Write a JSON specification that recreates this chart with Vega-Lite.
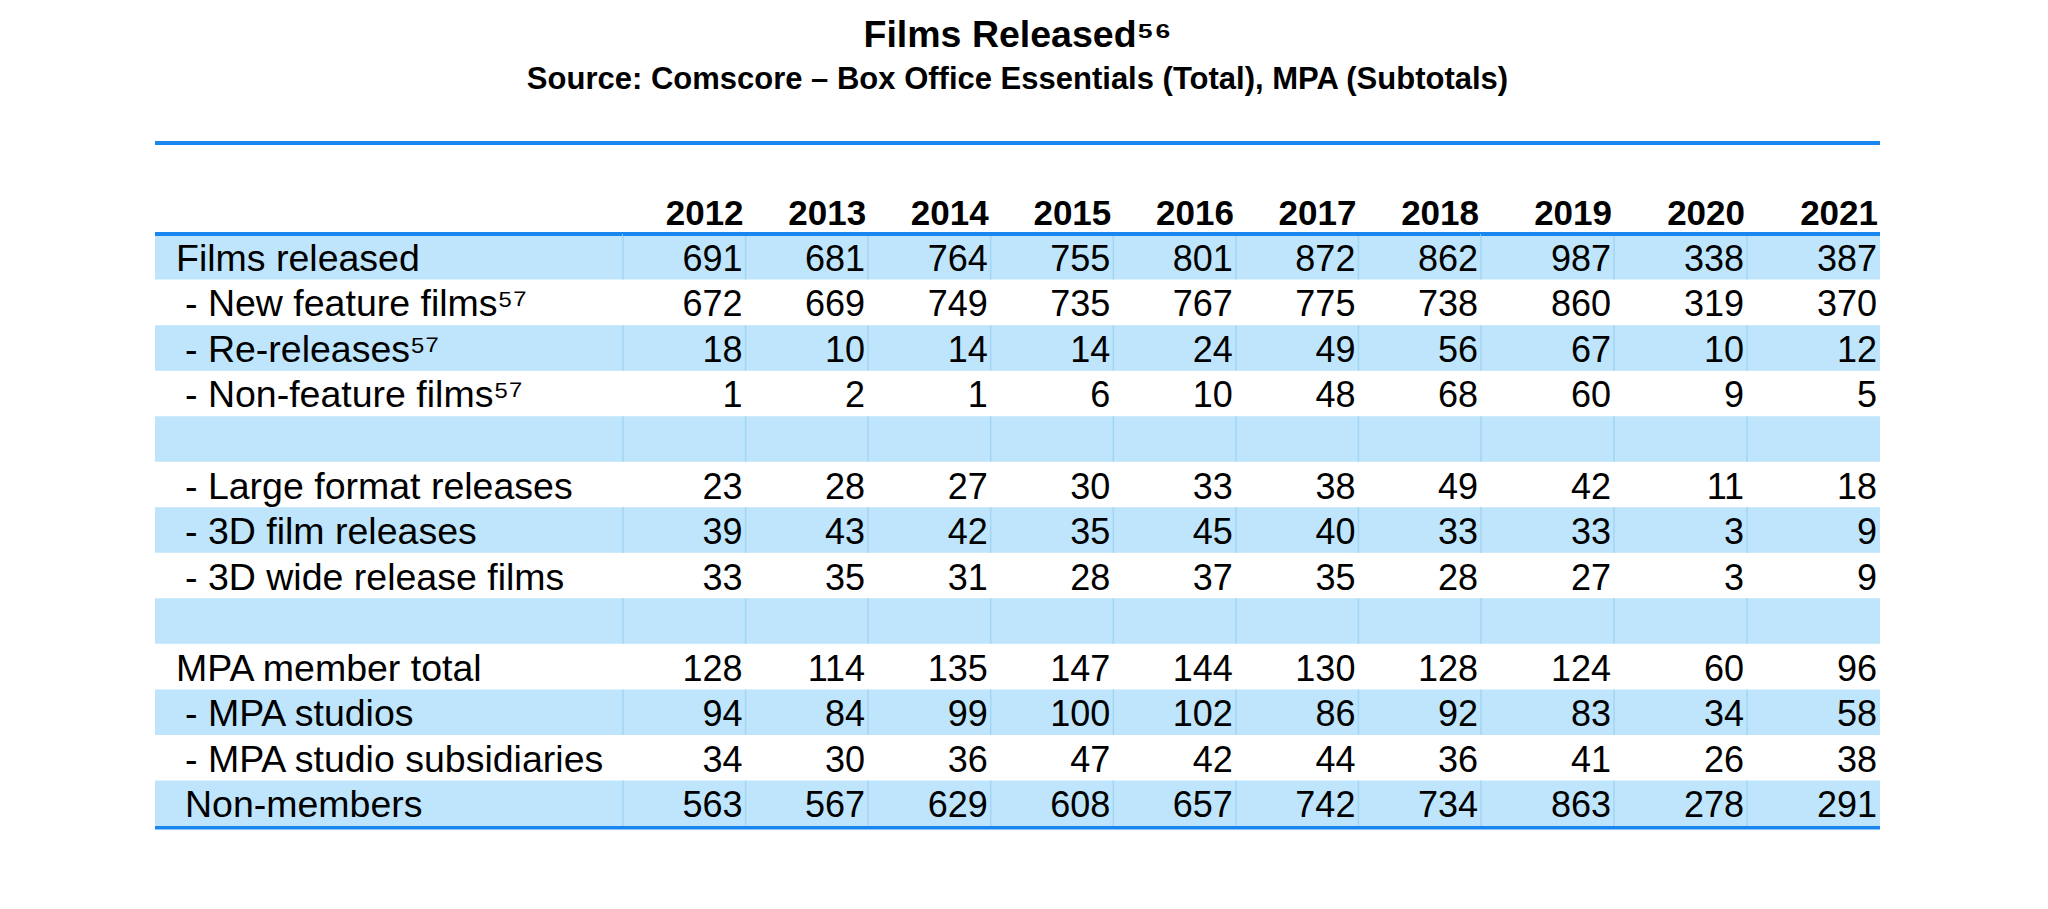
{
  "$schema": "https://vega.github.io/schema/vega-lite/v6.json",
  "padding": {"left": 153, "top": 17, "right": 0, "bottom": 0},
  "background": "white",
  "config": {"view": {"stroke": null}, "font": "Liberation Sans"},
  "title": {
    "text": "Films Released⁵⁶",
    "subtitle": "Source: Comscore – Box Office Essentials (Total), MPA (Subtotals)",
    "anchor": "middle",
    "font": "Liberation Sans",
    "fontSize": 37.5,
    "fontWeight": "bold",
    "color": "#000000",
    "subtitleFont": "Liberation Sans",
    "subtitleFontSize": 31,
    "subtitleFontWeight": "bold",
    "subtitleColor": "#000000",
    "subtitlePadding": 10,
    "offset": 46.5
  },
  "datasets": {
    "table": [
      {"id": "r1", "label": "Films released", "level": 0, "shade": true, "2012": 691, "2013": 681, "2014": 764, "2015": 755, "2016": 801, "2017": 872, "2018": 862, "2019": 987, "2020": 338, "2021": 387},
      {"id": "r2", "label": "- New feature films⁵⁷", "level": 1, "shade": false, "2012": 672, "2013": 669, "2014": 749, "2015": 735, "2016": 767, "2017": 775, "2018": 738, "2019": 860, "2020": 319, "2021": 370},
      {"id": "r3", "label": "- Re-releases⁵⁷", "level": 1, "shade": true, "2012": 18, "2013": 10, "2014": 14, "2015": 14, "2016": 24, "2017": 49, "2018": 56, "2019": 67, "2020": 10, "2021": 12},
      {"id": "r4", "label": "- Non-feature films⁵⁷", "level": 1, "shade": false, "2012": 1, "2013": 2, "2014": 1, "2015": 6, "2016": 10, "2017": 48, "2018": 68, "2019": 60, "2020": 9, "2021": 5},
      {"id": "r5", "label": "", "level": 0, "shade": true},
      {"id": "r6", "label": "- Large format releases", "level": 1, "shade": false, "2012": 23, "2013": 28, "2014": 27, "2015": 30, "2016": 33, "2017": 38, "2018": 49, "2019": 42, "2020": 11, "2021": 18},
      {"id": "r7", "label": "- 3D film releases", "level": 1, "shade": true, "2012": 39, "2013": 43, "2014": 42, "2015": 35, "2016": 45, "2017": 40, "2018": 33, "2019": 33, "2020": 3, "2021": 9},
      {"id": "r8", "label": "- 3D wide release films", "level": 1, "shade": false, "2012": 33, "2013": 35, "2014": 31, "2015": 28, "2016": 37, "2017": 35, "2018": 28, "2019": 27, "2020": 3, "2021": 9},
      {"id": "r9", "label": "", "level": 0, "shade": true},
      {"id": "r10", "label": "MPA member total", "level": 0, "shade": false, "2012": 128, "2013": 114, "2014": 135, "2015": 147, "2016": 144, "2017": 130, "2018": 128, "2019": 124, "2020": 60, "2021": 96},
      {"id": "r11", "label": "- MPA studios", "level": 1, "shade": true, "2012": 94, "2013": 84, "2014": 99, "2015": 100, "2016": 102, "2017": 86, "2018": 92, "2019": 83, "2020": 34, "2021": 58},
      {"id": "r12", "label": "- MPA studio subsidiaries", "level": 1, "shade": false, "2012": 34, "2013": 30, "2014": 36, "2015": 47, "2016": 42, "2017": 44, "2018": 36, "2019": 41, "2020": 26, "2021": 38},
      {"id": "r13", "label": "Non-members", "level": 1, "shade": true, "2012": 563, "2013": 567, "2014": 629, "2015": 608, "2016": 657, "2017": 742, "2018": 734, "2019": 863, "2020": 278, "2021": 291}
    ]
  },
  "spacing": 0,
  "bounds": "flush",
  "hconcat": [
    {
      "width": 468,
      "height": 683,
      "data": {"name": "table"},
      "layer": [
        {
          "transform": [{"filter": "datum.shade"}],
          "mark": {"type": "rect", "color": "#BEE5FC"},
          "encoding": {
            "x": {"datum": "label", "type": "nominal", "scale": {"type": "band", "domain": ["label"], "paddingInner": 0, "paddingOuter": 0}, "axis": null},
            "y": {"field": "id", "type": "ordinal", "scale": {"type": "band", "domain": ["sp","hdr","r1","r2","r3","r4","r5","r6","r7","r8","r9","r10","r11","r12","r13"], "paddingInner": 0, "paddingOuter": 0}, "axis": null}
          }
        },
        {
          "transform": [{"filter": "datum.level === 0 && datum.label !== ''"}],
          "mark": {"type": "text", "align": "left", "baseline": "middle", "fontSize": 37.5, "dx": 21, "dy": 3, "color": "#000000"},
          "encoding": {
            "x": {"datum": "label", "type": "nominal", "bandPosition": 0, "scale": {"type": "band", "domain": ["label"], "paddingInner": 0, "paddingOuter": 0}, "axis": null},
            "y": {"field": "id", "type": "ordinal", "scale": {"type": "band", "domain": ["sp","hdr","r1","r2","r3","r4","r5","r6","r7","r8","r9","r10","r11","r12","r13"], "paddingInner": 0, "paddingOuter": 0}, "axis": null},
            "text": {"field": "label", "type": "nominal"}
          }
        },
        {
          "transform": [{"filter": "datum.level === 1"}],
          "mark": {"type": "text", "align": "left", "baseline": "middle", "fontSize": 37.5, "dx": 30, "dy": 3, "color": "#000000"},
          "encoding": {
            "x": {"datum": "label", "type": "nominal", "bandPosition": 0, "scale": {"type": "band", "domain": ["label"], "paddingInner": 0, "paddingOuter": 0}, "axis": null},
            "y": {"field": "id", "type": "ordinal", "scale": {"type": "band", "domain": ["sp","hdr","r1","r2","r3","r4","r5","r6","r7","r8","r9","r10","r11","r12","r13"], "paddingInner": 0, "paddingOuter": 0}, "axis": null},
            "text": {"field": "label", "type": "nominal"}
          }
        },
        {
          "data": {"values": [{"at": "sp"}, {"at": "r1"}]},
          "mark": {"type": "rule", "color": "#1A87F0", "strokeWidth": 4},
          "encoding": {
            "y": {"field": "at", "type": "ordinal", "bandPosition": 0, "scale": {"type": "band", "domain": ["sp","hdr","r1","r2","r3","r4","r5","r6","r7","r8","r9","r10","r11","r12","r13"], "paddingInner": 0, "paddingOuter": 0}, "axis": null}
          }
        },
        {
          "data": {"values": [{"at": "r13"}]},
          "mark": {"type": "rule", "color": "#1A87F0", "strokeWidth": 3.5, "yOffset": 1.7},
          "encoding": {
            "y": {"field": "at", "type": "ordinal", "bandPosition": 1, "scale": {"type": "band", "domain": ["sp","hdr","r1","r2","r3","r4","r5","r6","r7","r8","r9","r10","r11","r12","r13"], "paddingInner": 0, "paddingOuter": 0}, "axis": null}
          }
        }
      ]
    },
    {
      "width": 858,
      "height": 683,
      "data": {"name": "table"},
      "transform": [{"fold": ["2012", "2013", "2014", "2015", "2016", "2017", "2018"], "as": ["year", "value"]}],
      "layer": [
        {
          "transform": [{"filter": "datum.shade"}],
          "mark": {"type": "rect", "color": "#BEE5FC"},
          "encoding": {
            "x": {"field": "year", "type": "ordinal", "scale": {"type": "band", "domain": ["2012","2013","2014","2015","2016","2017","2018"], "paddingInner": 0, "paddingOuter": 0}, "axis": null},
            "y": {"field": "id", "type": "ordinal", "scale": {"type": "band", "domain": ["sp","hdr","r1","r2","r3","r4","r5","r6","r7","r8","r9","r10","r11","r12","r13"], "paddingInner": 0, "paddingOuter": 0}, "axis": null}
          }
        },
        {
          "transform": [{"filter": "datum.shade"}],
          "mark": {"type": "tick", "orient": "vertical", "size": 45.5, "thickness": 1.5, "color": "#A3D5F5", "opacity": 1},
          "encoding": {
            "x": {"field": "year", "type": "ordinal", "bandPosition": 0, "scale": {"type": "band", "domain": ["2012","2013","2014","2015","2016","2017","2018"], "paddingInner": 0, "paddingOuter": 0}, "axis": null},
            "y": {"field": "id", "type": "ordinal", "scale": {"type": "band", "domain": ["sp","hdr","r1","r2","r3","r4","r5","r6","r7","r8","r9","r10","r11","r12","r13"], "paddingInner": 0, "paddingOuter": 0}, "axis": null}
          }
        },
        {
          "transform": [{"filter": "datum.id === 'r1'"}],
          "mark": {"type": "text", "align": "right", "baseline": "middle", "fontSize": 35, "fontWeight": "bold", "dx": -2, "dy": 3, "color": "#000000"},
          "encoding": {
            "x": {"field": "year", "type": "ordinal", "bandPosition": 1, "scale": {"type": "band", "domain": ["2012","2013","2014","2015","2016","2017","2018"], "paddingInner": 0, "paddingOuter": 0}, "axis": null},
            "y": {"datum": "hdr", "type": "ordinal", "scale": {"type": "band", "domain": ["sp","hdr","r1","r2","r3","r4","r5","r6","r7","r8","r9","r10","r11","r12","r13"], "paddingInner": 0, "paddingOuter": 0}, "axis": null},
            "text": {"field": "year", "type": "nominal"}
          }
        },
        {
          "transform": [{"filter": "isValid(datum.value)"}],
          "mark": {"type": "text", "align": "right", "baseline": "middle", "fontSize": 36, "dx": -3, "dy": 3, "color": "#000000"},
          "encoding": {
            "x": {"field": "year", "type": "ordinal", "bandPosition": 1, "scale": {"type": "band", "domain": ["2012","2013","2014","2015","2016","2017","2018"], "paddingInner": 0, "paddingOuter": 0}, "axis": null},
            "y": {"field": "id", "type": "ordinal", "scale": {"type": "band", "domain": ["sp","hdr","r1","r2","r3","r4","r5","r6","r7","r8","r9","r10","r11","r12","r13"], "paddingInner": 0, "paddingOuter": 0}, "axis": null},
            "text": {"field": "value", "type": "quantitative", "format": "d"}
          }
        },
        {
          "data": {"values": [{"at": "sp"}, {"at": "r1"}]},
          "mark": {"type": "rule", "color": "#1A87F0", "strokeWidth": 4},
          "encoding": {
            "y": {"field": "at", "type": "ordinal", "bandPosition": 0, "scale": {"type": "band", "domain": ["sp","hdr","r1","r2","r3","r4","r5","r6","r7","r8","r9","r10","r11","r12","r13"], "paddingInner": 0, "paddingOuter": 0}, "axis": null}
          }
        },
        {
          "data": {"values": [{"at": "r13"}]},
          "mark": {"type": "rule", "color": "#1A87F0", "strokeWidth": 3.5, "yOffset": 1.7},
          "encoding": {
            "y": {"field": "at", "type": "ordinal", "bandPosition": 1, "scale": {"type": "band", "domain": ["sp","hdr","r1","r2","r3","r4","r5","r6","r7","r8","r9","r10","r11","r12","r13"], "paddingInner": 0, "paddingOuter": 0}, "axis": null}
          }
        }
      ]
    },
    {
      "width": 399,
      "height": 683,
      "data": {"name": "table"},
      "transform": [{"fold": ["2019", "2020", "2021"], "as": ["year", "value"]}],
      "layer": [
        {
          "transform": [{"filter": "datum.shade"}],
          "mark": {"type": "rect", "color": "#BEE5FC"},
          "encoding": {
            "x": {"field": "year", "type": "ordinal", "scale": {"type": "band", "domain": ["2019","2020","2021"], "paddingInner": 0, "paddingOuter": 0}, "axis": null},
            "y": {"field": "id", "type": "ordinal", "scale": {"type": "band", "domain": ["sp","hdr","r1","r2","r3","r4","r5","r6","r7","r8","r9","r10","r11","r12","r13"], "paddingInner": 0, "paddingOuter": 0}, "axis": null}
          }
        },
        {
          "transform": [{"filter": "datum.shade"}],
          "mark": {"type": "tick", "orient": "vertical", "size": 45.5, "thickness": 1.5, "color": "#A3D5F5", "opacity": 1},
          "encoding": {
            "x": {"field": "year", "type": "ordinal", "bandPosition": 0, "scale": {"type": "band", "domain": ["2019","2020","2021"], "paddingInner": 0, "paddingOuter": 0}, "axis": null},
            "y": {"field": "id", "type": "ordinal", "scale": {"type": "band", "domain": ["sp","hdr","r1","r2","r3","r4","r5","r6","r7","r8","r9","r10","r11","r12","r13"], "paddingInner": 0, "paddingOuter": 0}, "axis": null}
          }
        },
        {
          "transform": [{"filter": "datum.id === 'r1'"}],
          "mark": {"type": "text", "align": "right", "baseline": "middle", "fontSize": 35, "fontWeight": "bold", "dx": -2, "dy": 3, "color": "#000000"},
          "encoding": {
            "x": {"field": "year", "type": "ordinal", "bandPosition": 1, "scale": {"type": "band", "domain": ["2019","2020","2021"], "paddingInner": 0, "paddingOuter": 0}, "axis": null},
            "y": {"datum": "hdr", "type": "ordinal", "scale": {"type": "band", "domain": ["sp","hdr","r1","r2","r3","r4","r5","r6","r7","r8","r9","r10","r11","r12","r13"], "paddingInner": 0, "paddingOuter": 0}, "axis": null},
            "text": {"field": "year", "type": "nominal"}
          }
        },
        {
          "transform": [{"filter": "isValid(datum.value)"}],
          "mark": {"type": "text", "align": "right", "baseline": "middle", "fontSize": 36, "dx": -3, "dy": 3, "color": "#000000"},
          "encoding": {
            "x": {"field": "year", "type": "ordinal", "bandPosition": 1, "scale": {"type": "band", "domain": ["2019","2020","2021"], "paddingInner": 0, "paddingOuter": 0}, "axis": null},
            "y": {"field": "id", "type": "ordinal", "scale": {"type": "band", "domain": ["sp","hdr","r1","r2","r3","r4","r5","r6","r7","r8","r9","r10","r11","r12","r13"], "paddingInner": 0, "paddingOuter": 0}, "axis": null},
            "text": {"field": "value", "type": "quantitative", "format": "d"}
          }
        },
        {
          "data": {"values": [{"at": "sp"}, {"at": "r1"}]},
          "mark": {"type": "rule", "color": "#1A87F0", "strokeWidth": 4},
          "encoding": {
            "y": {"field": "at", "type": "ordinal", "bandPosition": 0, "scale": {"type": "band", "domain": ["sp","hdr","r1","r2","r3","r4","r5","r6","r7","r8","r9","r10","r11","r12","r13"], "paddingInner": 0, "paddingOuter": 0}, "axis": null}
          }
        },
        {
          "data": {"values": [{"at": "r13"}]},
          "mark": {"type": "rule", "color": "#1A87F0", "strokeWidth": 3.5, "yOffset": 1.7},
          "encoding": {
            "y": {"field": "at", "type": "ordinal", "bandPosition": 1, "scale": {"type": "band", "domain": ["sp","hdr","r1","r2","r3","r4","r5","r6","r7","r8","r9","r10","r11","r12","r13"], "paddingInner": 0, "paddingOuter": 0}, "axis": null}
          }
        }
      ]
    }
  ]
}
